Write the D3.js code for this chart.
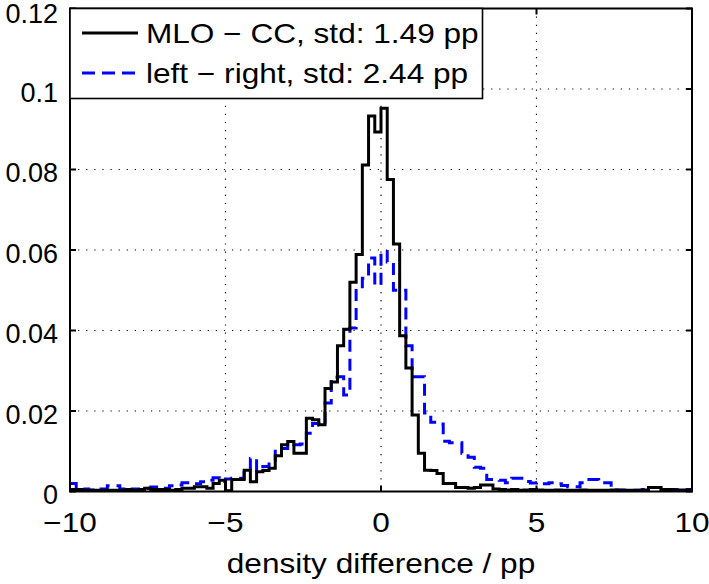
<!DOCTYPE html>
<html>
<head>
<meta charset="utf-8">
<script src="https://cdn.jsdelivr.net/npm/d3@7/dist/d3.min.js"></script>
<style>
  html, body { margin: 0; padding: 0; background: #fff; }
  svg { display: block; }
  text { font-family: "Liberation Sans", Arial, Helvetica, sans-serif; fill: #000; }
</style>
</head>
<body>
<svg id="chart" width="709" height="584"></svg>
<script>
// ---------------- data ----------------
// histogram bins: left edges from -10 to 9.8, width 0.2
const binStart = -10;
const binWidth = 0.2;
const binCount = 100;

// MLO − CC (black solid)
const mloCC = [
  0.0005, 0.0005, 0.0003, 0.0003, 0.0003, 0.0003, 0.0003, 0.0003, 0.0003, 0.0005, // -10 .. -8.2
  0.0003, 0.0005, 0.0008, 0.0005, 0.0005, 0.0005, 0.0003, 0.0005, 0.0008, 0.0008, // -8 .. -6.2
  0.0012, 0.0012, 0.0008, 0.0020, 0.0028, 0.0002, 0.0030, 0.0030, 0.0053, 0.0024, // -6 .. -4.2
  0.0049, 0.0052, 0.0058, 0.0089, 0.0116, 0.0124, 0.0095, 0.0095, 0.0182, 0.0178, // -4 .. -2.2
  0.0166, 0.0256, 0.0272, 0.0362, 0.0403, 0.0520, 0.0589, 0.0811, 0.0933, 0.0893, // -2 .. -0.2
  0.0952, 0.0775, 0.0615, 0.0387, 0.0307, 0.0190, 0.0095, 0.0053, 0.0052, 0.0045, // 0 .. 1.8
  0.0020, 0.0020, 0.0010, 0.0010, 0.0008, 0.0010, 0.0016, 0.0016, 0.0006, 0.0005, // 2 .. 3.8
  0.0004, 0.0005, 0.0003, 0.0004, 0.0005, 0.0004, 0.0003, 0.0003, 0.0004, 0.0003, // 4 .. 5.8
  0.0003, 0.0003, 0.0004, 0.0003, 0.0003, 0.0003, 0.0003, 0.0004, 0.0003, 0.0003, // 6 .. 7.8
  0.0003, 0.0003, 0.0004, 0.0010, 0.0010, 0.0005, 0.0005, 0.0004, 0.0004, 0.0004  // 8 .. 9.8
];

// left − right (blue dashed)
const leftRight = [
  0.0020, 0.0008, 0.0006, 0.0004, 0.0004, 0.0006, 0.0014, 0.0014, 0.0006, 0.0004, // -10 .. -8.2
  0.0006, 0.0004, 0.0008, 0.0011, 0.0011, 0.0008, 0.0014, 0.0016, 0.0022, 0.0022, // -8 .. -6.2
  0.0019, 0.0024, 0.0028, 0.0034, 0.0025, 0.0031, 0.0033, 0.0033, 0.0052, 0.0082, // -6 .. -4.2
  0.0053, 0.0062, 0.0077, 0.0105, 0.0107, 0.0121, 0.0116, 0.0118, 0.0145, 0.0169, // -4 .. -2.2
  0.0165, 0.0220, 0.0284, 0.0285, 0.0240, 0.0406, 0.0505, 0.0530, 0.0580, 0.0513, // -2 .. -0.2
  0.0596, 0.0570, 0.0500, 0.0500, 0.0362, 0.0285, 0.0285, 0.0195, 0.0172, 0.0168, // 0 .. 1.8
  0.0125, 0.0121, 0.0121, 0.0095, 0.0085, 0.0060, 0.0058, 0.0030, 0.0030, 0.0028, // 2 .. 3.8
  0.0022, 0.0033, 0.0033, 0.0025, 0.0021, 0.0022, 0.0019, 0.0022, 0.0019, 0.0015, // 4 .. 5.8
  0.0012, 0.0012, 0.0022, 0.0030, 0.0030, 0.0022, 0.0022, 0.0004, 0.0004, 0.0003, // 6 .. 7.8
  0.0003, 0.0003, 0.0005, 0.0010, 0.0010, 0.0005, 0.0005, 0.0005, 0.0005, 0.0005  // 8 .. 9.8
];

const xTicks = [-10, -5, 0, 5, 10];
const xTickLabels = ["\u221210", "\u22125", "0", "5", "10"];
const yTicks = [0, 0.02, 0.04, 0.06, 0.08, 0.1, 0.12];
const yTickLabels = ["0", "0.02", "0.04", "0.06", "0.08", "0.1", "0.12"];
const xGrid = [-5, 0, 5];
const yGrid = [0.02, 0.04, 0.06, 0.08, 0.1];

const seriesNames = ["MLO \u2212 CC, std: 1.49 pp", "left \u2212 right, std: 2.44 pp"];
const xLabel = "density difference / pp";

// ---------------- layout ----------------
const svg = d3.select("#chart");
const M = { left: 70, right: 692, top: 8.5, bottom: 491.5 };
const FS = 27;      // font size
const SX = 1.17;    // horizontal glyph stretch of the original rendering (legend / x texts)

const x = d3.scaleLinear().domain([-10, 10]).range([M.left, M.right]);
const y = d3.scaleLinear().domain([0, 0.12]).range([M.bottom, M.top]);

function addText(parent, px, py, str, anchor, sx) {
  return parent.append("text")
    .attr("transform", `translate(${px},${py}) scale(${sx},1)`)
    .attr("text-anchor", anchor || "start")
    .attr("font-size", FS)
    .text(str);
}

svg.append("defs").append("clipPath").attr("id", "clip")
  .append("rect").attr("x", M.left).attr("y", M.top)
  .attr("width", M.right - M.left).attr("height", M.bottom - M.top);

// grid
const grid = svg.append("g");
grid.selectAll(".gx").data(xGrid).enter().append("line")
  .attr("x1", d => x(d)).attr("x2", d => x(d))
  .attr("y1", M.top).attr("y2", M.bottom)
  .attr("stroke", "#000").attr("stroke-width", 1.2)
  .attr("stroke-dasharray", "1.2,6.9");
grid.selectAll(".gy").data(yGrid).enter().append("line")
  .attr("x1", M.left).attr("x2", M.right)
  .attr("y1", d => y(d)).attr("y2", d => y(d))
  .attr("stroke", "#000").attr("stroke-width", 1.2)
  .attr("stroke-dasharray", "1.2,6.9");

// series
function stairPoints(vals) {
  const pts = vals.map((v, i) => [binStart + i * binWidth, v]);
  pts.push([binStart + binCount * binWidth, vals[vals.length - 1]]);
  return pts;
}
const line = d3.line().x(d => x(d[0])).y(d => y(d[1])).curve(d3.curveStepAfter);

const plot = svg.append("g").attr("clip-path", "url(#clip)");
plot.append("path").datum(stairPoints(leftRight))
  .attr("d", line).attr("fill", "none")
  .attr("stroke", "#0000ff").attr("stroke-width", 3)
  .attr("stroke-dasharray", "12,7");
plot.append("path").datum(stairPoints(mloCC))
  .attr("d", line).attr("fill", "none")
  .attr("stroke", "#000").attr("stroke-width", 3)
  .attr("stroke-linejoin", "miter");

// axes box
svg.append("rect").attr("x", M.left).attr("y", M.top)
  .attr("width", M.right - M.left).attr("height", M.bottom - M.top)
  .attr("fill", "none").attr("stroke", "#000").attr("stroke-width", 2);

// ticks (inward, all four sides)
const tl = 6;
const ticks = svg.append("g").attr("stroke", "#000").attr("stroke-width", 2);
xTicks.forEach(t => {
  ticks.append("line").attr("x1", x(t)).attr("x2", x(t)).attr("y1", M.bottom).attr("y2", M.bottom - tl);
  ticks.append("line").attr("x1", x(t)).attr("x2", x(t)).attr("y1", M.top).attr("y2", M.top + tl);
});
yTicks.forEach(t => {
  ticks.append("line").attr("x1", M.left).attr("x2", M.left + tl).attr("y1", y(t)).attr("y2", y(t));
  ticks.append("line").attr("x1", M.right).attr("x2", M.right - tl).attr("y1", y(t)).attr("y2", y(t));
});

// tick labels
const labels = svg.append("g");
xTicks.forEach((t, i) => addText(labels, x(t), 532, xTickLabels[i], "middle", SX));
yTicks.forEach((t, i) => addText(labels, 58, Math.max(y(t) + 12.7, 22.5), yTickLabels[i], "end", 1.0));

// axis title
addText(svg, x(0), 573, xLabel, "middle", SX);

// legend
const lg = svg.append("g");
lg.append("rect").attr("x", M.left).attr("y", M.top)
  .attr("width", 482.5 - M.left).attr("height", 98.5 - M.top)
  .attr("fill", "#fff").attr("stroke", "#000").attr("stroke-width", 1.6);
const legY = [33, 73];
const legStyles = [{ c: "#000", dash: null }, { c: "#0000ff", dash: "13,7" }];
seriesNames.forEach((name, i) => {
  const l = lg.append("line").attr("x1", 82).attr("x2", 138)
    .attr("y1", legY[i]).attr("y2", legY[i])
    .attr("stroke", legStyles[i].c).attr("stroke-width", 3);
  if (legStyles[i].dash) l.attr("stroke-dasharray", legStyles[i].dash);
  addText(lg, 146, legY[i] + 10, name, "start", SX);
});
</script>
</body>
</html>
